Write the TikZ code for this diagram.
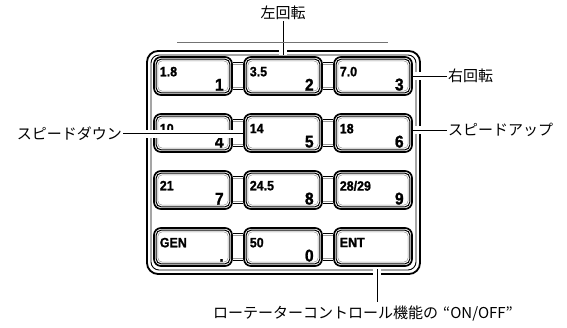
\documentclass[tikz,border=0pt]{standalone}
\usepackage{fontspec}
\setmainfont{Liberation Sans}
\newfontfamily\keyfont{Liberation Sans}[BoldFeatures={FakeBold=1.2,FakeStretch=0.92}]
\newfontfamily\jfont{Noto Sans CJK JP}
\begin{document}
\begin{tikzpicture}[x=1pt,y=-1pt,
  keybox/.style={draw,fill=white,line width=1.7pt,rounded corners=7pt,
    minimum width=78pt,minimum height=38pt,inner sep=0pt},
  keytxt/.style={inner sep=0pt,font=\fontsize{13.5}{14}\selectfont\keyfont\bfseries},
  keynum/.style={inner sep=0pt,font=\fontsize{17}{18}\selectfont\keyfont\bfseries},
  jlabel/.style={inner sep=1pt,font=\fontsize{15}{16}\selectfont\jfont},
  leader/.style={line width=0.8pt,preaction={draw=white,line width=8pt}},
  bridge/.style={line width=0.8pt}]
  \useasboundingbox (0,0) rectangle (567,327);
  % ---------- frame of the keypad ----------
  \draw[line width=1.8pt,rounded corners=11pt] (147,51) rectangle (420,274);
  \draw[line width=0.9pt,rounded corners=8pt] (151,55) rectangle (416,270);
  % ---------- keys ----------
  \foreach \n/\x/\y/\t/\d in {1/193/76/1.8/1,2/283/76/3.5/2,3/373/76/7.0/3,
      4/193/133/10/4,5/283/133/14/5,6/373/133/18/6,
      7/193/190/21/7,8/283/190/24.5/8,9/373/190/{28/29}/9,
      10/193/247/GEN/.,11/283/247/50/0,12/373/247/ENT/{}}{
    \node[keybox] (k\n) at (\x,\y) {};
    \draw[line width=1pt,rounded corners=5pt] ([shift={(3pt,3pt)}]k\n.south west)
      rectangle ([shift={(-3pt,-3pt)}]k\n.north east);
    \draw[black!45,line width=0.5pt,rounded corners=4pt] ([shift={(4.8pt,4.8pt)}]k\n.south west)
      rectangle ([shift={(-4.8pt,-4.8pt)}]k\n.north east);
    \node[keytxt,anchor=north west] (k\n-t) at ([shift={(6.5pt,-10.5pt)}]k\n.north west) {\t};
    \node[keynum,anchor=south east] (k\n-d) at ([shift={(-9pt,5pt)}]k\n.south east) {\d};
  }
  % bridges between the keys of a row
  \foreach \a/\b in {1/2,2/3,4/5,5/6,7/8,8/9,10/11,11/12}{
    \draw[bridge] ([yshift=-6pt]k\a.north east) -- ([yshift=-6pt]k\b.north west);
    \draw[bridge,black!40] ([yshift=-8pt]k\a.north east) -- ([yshift=-8pt]k\b.north west);
    \draw[bridge] ([yshift=6pt]k\a.south east) -- ([yshift=6pt]k\b.south west);
    \draw[bridge,black!40] ([yshift=8pt]k\a.south east) -- ([yshift=8pt]k\b.south west);
  }
  % ---------- labels and leaders ----------
  \node[jlabel] (lccw) at (283,13) {左回転};
  \coordinate (ccwend) at (283,55);
  \draw[leader] (lccw.south) -- (ccwend);
  \node[jlabel,anchor=west] (lcw) at (447,76) {右回転};
  \draw[leader] (k3.east) -- (lcw.west);
  \node[jlabel,anchor=west] (lup) at (447,130) {スピードアップ};
  \draw[leader] (lup.west -| k6.east) -- (lup.west);
  \node[jlabel,anchor=east] (ldown) at (123,133.5) {スピードダウン};
  \draw[leader] (ldown.east) -- (ldown.east -| k5.west);
  \coordinate (onoff) at (377,269);
  \node[jlabel] (lonoff) at (363,314) {ローテーターコントロール機能の\hspace{5pt}“ON/OFF”};
  \draw[leader,shorten >=3pt] (onoff) -- (onoff |- lonoff.north);
  % edge of the panel above the keypad
  \draw[black!55,line width=0.6pt] (177,42) -- (388,42);
\end{tikzpicture}
\end{document}
